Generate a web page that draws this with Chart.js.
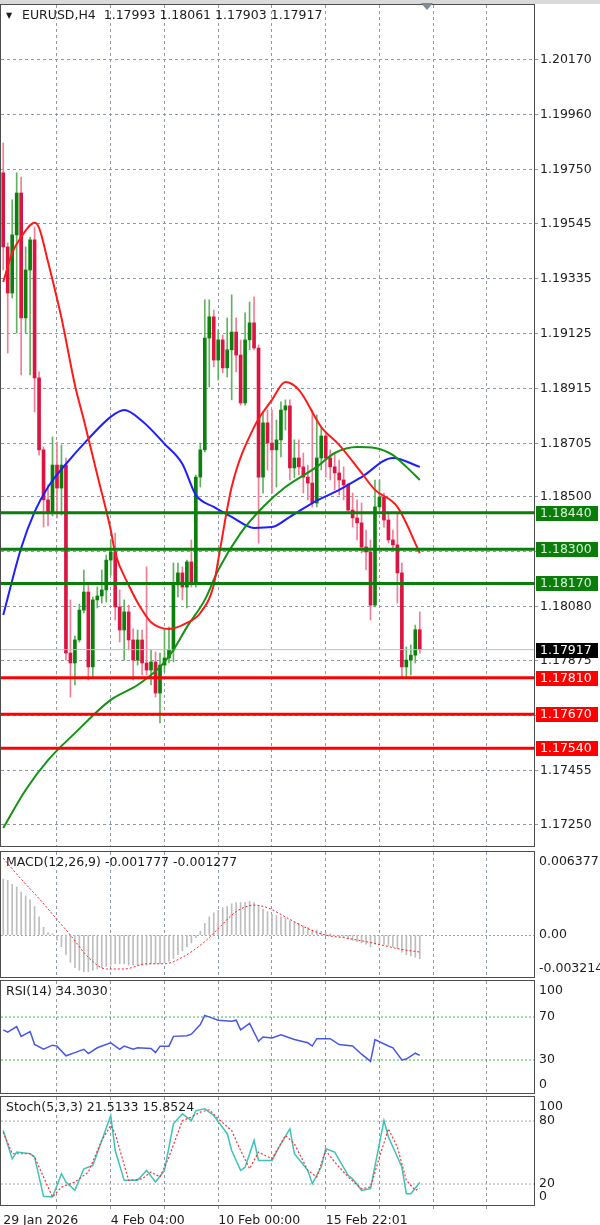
<!DOCTYPE html>
<html>
<head>
<meta charset="utf-8">
<title>EURUSD H4</title>
<script src="https://cdn.jsdelivr.net/npm/chart.js@4.4.1/dist/chart.umd.min.js"></script>
<style>
  html, body { margin: 0; padding: 0; background: #fff; }
  #wrap { position: relative; width: 600px; height: 1225px; overflow: hidden; }
  #wrap canvas { position: absolute; left: 0; }
</style>
</head>
<body>
<div id="wrap">
  <canvas id="mainChart" width="600" height="849" style="top:0px"></canvas>
  <canvas id="macdChart" width="600" height="130" style="top:849px"></canvas>
  <canvas id="rsiChart" width="600" height="115" style="top:979px"></canvas>
  <canvas id="stochChart" width="600" height="131" style="top:1094px"></canvas>
</div>
<script>
// ---- candles (H4 bars, index 0 = 29 Jan 2026 00:00) ----
const candleOpen = [
  1.19738, 1.19455, 1.19279, 1.19501, 1.19661, 1.19184, 1.19367, 1.19482, 1.18955, 1.18680,
  1.18489, 1.18439, 1.18622, 1.18534, 1.18622, 1.17904, 1.17866, 1.17954, 1.18068, 1.18137,
  1.17851, 1.18107, 1.18122, 1.18145, 1.18259, 1.18290, 1.18080, 1.17992, 1.18061, 1.17954,
  1.17877, 1.17954, 1.17866, 1.17839, 1.17870, 1.17751, 1.17858, 1.17885, 1.17916, 1.18164,
  1.18210, 1.18156, 1.18252, 1.18172, 1.18576, 1.18680, 1.19107, 1.19188, 1.19023, 1.19100,
  1.18993, 1.19062, 1.19130, 1.19042, 1.18859, 1.19100, 1.19165, 1.19069, 1.18576, 1.18783,
  1.18706, 1.18680, 1.18718, 1.18832, 1.18848, 1.18611, 1.18649, 1.18615, 1.18576, 1.18553,
  1.18477, 1.18649, 1.18733, 1.18649, 1.18615, 1.18592, 1.18565, 1.18546, 1.18450, 1.18420,
  1.18401, 1.18309, 1.18290, 1.18087, 1.18462, 1.18500, 1.18412, 1.18336, 1.18317, 1.18210,
  1.17851, 1.17877, 1.17896, 1.17993
];
const candleHigh = [
  1.19852, 1.19470, 1.19635, 1.19738, 1.19722, 1.19455, 1.19493, 1.19531, 1.18978, 1.18691,
  1.18546, 1.18729, 1.18710, 1.18699, 1.18649, 1.18107, 1.17969, 1.18091, 1.18221, 1.18175,
  1.18118, 1.18156, 1.18221, 1.18278, 1.18336, 1.18362, 1.18145, 1.18107, 1.18087, 1.17996,
  1.17992, 1.17992, 1.18233, 1.17916, 1.17908, 1.17904, 1.17996, 1.18003, 1.18248, 1.18248,
  1.18233, 1.18259, 1.18336, 1.18584, 1.18706, 1.19253, 1.19253, 1.19214, 1.19138, 1.19119,
  1.19184, 1.19272, 1.19184, 1.19100, 1.19203, 1.19245, 1.19264, 1.19081, 1.18821, 1.18832,
  1.18832, 1.18794, 1.18863, 1.18871, 1.18871, 1.18718, 1.18718, 1.18668, 1.18622, 1.18832,
  1.18813, 1.18764, 1.18744, 1.18680, 1.18668, 1.18641, 1.18615, 1.18553, 1.18515, 1.18489,
  1.18477, 1.18374, 1.18336, 1.18565, 1.18565, 1.18515, 1.18439, 1.18374, 1.18439, 1.18248,
  1.17927, 1.17935, 1.18011, 1.18061
];
const candleLow = [
  1.19367, 1.19050, 1.19260, 1.19126, 1.18966, 1.19126, 1.18966, 1.18825, 1.18660, 1.18385,
  1.18389, 1.18427, 1.18420, 1.18431, 1.17877, 1.17736, 1.17782, 1.17946, 1.18057, 1.17801,
  1.17809, 1.18076, 1.18095, 1.18099, 1.18202, 1.18030, 1.17946, 1.17877, 1.17916, 1.17801,
  1.17858, 1.17820, 1.17820, 1.17782, 1.17736, 1.17637, 1.17832, 1.17866, 1.17870, 1.18118,
  1.18107, 1.18076, 1.18156, 1.18156, 1.18538, 1.18672, 1.18920, 1.18997, 1.18947, 1.18974,
  1.18958, 1.18871, 1.18978, 1.18851, 1.18851, 1.19062, 1.19062, 1.18324, 1.18515, 1.18603,
  1.18515, 1.18538, 1.18653, 1.18756, 1.18565, 1.18573, 1.18584, 1.18515, 1.18489, 1.18462,
  1.18462, 1.18603, 1.18576, 1.18565, 1.18527, 1.18508, 1.18489, 1.18439, 1.18385, 1.18336,
  1.18286, 1.18221, 1.18030, 1.18080, 1.18450, 1.18385, 1.18324, 1.18298, 1.18095, 1.17812,
  1.17809, 1.17820, 1.17866, 1.17903
];
const candleClose = [
  1.19455, 1.19279, 1.19501, 1.19661, 1.19184, 1.19367, 1.19482, 1.18955, 1.18680, 1.18489,
  1.18439, 1.18622, 1.18534, 1.18622, 1.17904, 1.17866, 1.17954, 1.18068, 1.18137, 1.17851,
  1.18107, 1.18122, 1.18145, 1.18259, 1.18290, 1.18080, 1.17992, 1.18061, 1.17954, 1.17877,
  1.17954, 1.17866, 1.17839, 1.17870, 1.17751, 1.17858, 1.17885, 1.17916, 1.18164, 1.18210,
  1.18156, 1.18252, 1.18172, 1.18576, 1.18680, 1.19107, 1.19188, 1.19023, 1.19100, 1.18993,
  1.19062, 1.19130, 1.19042, 1.18859, 1.19100, 1.19165, 1.19069, 1.18576, 1.18783, 1.18706,
  1.18680, 1.18718, 1.18832, 1.18848, 1.18611, 1.18649, 1.18615, 1.18576, 1.18553, 1.18477,
  1.18649, 1.18733, 1.18649, 1.18615, 1.18592, 1.18565, 1.18546, 1.18450, 1.18420, 1.18401,
  1.18309, 1.18290, 1.18087, 1.18462, 1.18500, 1.18412, 1.18336, 1.18317, 1.18210, 1.17851,
  1.17877, 1.17896, 1.17993, 1.17917
];

// moving averages read at [bar index, price]
const maFast = [[0,1.19321],[2,1.19432],[4,1.19493],[7,1.19547],[8,1.19528],[10,1.19398],[13,1.19184],
  [16,1.18928],[18,1.18794],[21,1.18584],[24,1.18374],[25,1.18286],[28,1.18164],[31,1.18068],[33,1.18022],
  [37,1.17996],[41,1.18019],[44,1.18057],[47,1.18164],[48,1.18259],[51,1.18538],[56,1.18767],[60,1.18871],
  [63,1.18939],[66,1.18909],[71,1.18767],[75,1.18699],[80,1.18592],[83,1.18527],[88,1.18462],[93,1.18286]];
const maMid = [[0,1.18049],[4,1.18305],[7,1.18443],[10,1.18538],[14,1.18626],[19,1.18722],[24,1.18806],
  [27,1.18832],[31,1.18790],[36,1.18703],[40,1.18626],[43,1.18508],[47,1.18462],[51,1.18424],[56,1.18382],
  [60,1.18385],[64,1.18424],[69,1.18477],[75,1.18527],[80,1.18576],[87,1.18649],[93,1.18615]];
const maSlow = [[0,1.17236],[5,1.17381],[10,1.17495],[16,1.17598],[24,1.17725],[30,1.17782],[35,1.17851],
  [38,1.17916],[41,1.18003],[45,1.18107],[48,1.18221],[53,1.18362],[58,1.18462],[63,1.18538],[70,1.18615],
  [74,1.18668],[79,1.18691],[83,1.18687],[87,1.18660],[90,1.18615],[93,1.18565]];

// horizontal levels
const resistanceLevels = [1.18440, 1.18300, 1.18170];
const supportLevels = [1.17810, 1.17670, 1.17540];
const lastPrice = 1.17917;

// price axis
const priceMin = 1.17167, priceMax = 1.20379;
const priceTicks = [1.20170, 1.19960, 1.19750, 1.19545, 1.19335, 1.19125, 1.18915, 1.18705, 1.18500,
  1.18290, 1.18080, 1.17875, 1.17665, 1.17455, 1.17250];
const priceTickLabels = ['1.20170', '1.19960', '1.19750', '1.19545', '1.19335', '1.19125', '1.18915',
  '1.18705', '1.18500', '', '1.18080', '1.17875', '', '1.17455', '1.17250'];

// time axis
const gridIdx = [12, 24, 36, 48, 60, 72, 84, 96, 108];
const timeIdx = [0, 24, 48, 72];
const timeLabels = ['29 Jan 2026', '4 Feb 04:00', '10 Feb 00:00', '15 Feb 22:01'];
const shiftMarkIdx = 94.6;

// MACD(12,26,9)
const macdHist = [
  0.0043, 0.0042, 0.0039, 0.0037, 0.0033, 0.0030, 0.0027, 0.0022, 0.0014, 0.0006,
  0.0002, 0.0001, -0.0004, -0.0009, -0.0015, -0.0021, -0.0025, -0.0027, -0.0028, -0.0028,
  -0.0027, -0.0026, -0.0025, -0.0024, -0.0023, -0.0022, -0.0022, -0.0022, -0.0023, -0.0023,
  -0.0023, -0.0023, -0.0023, -0.0022, -0.0022, -0.0022, -0.0021, -0.0020, -0.0018, -0.0015,
  -0.0012, -0.0009, -0.0006, -0.0002, 0.0003, 0.0009, 0.0014, 0.0017, 0.0019, 0.0021,
  0.0022, 0.0024, 0.0025, 0.0025, 0.0025, 0.0026, 0.0025, 0.0022, 0.0020, 0.0018,
  0.0016, 0.0015, 0.0014, 0.0013, 0.0011, 0.0010, 0.0009, 0.0007, 0.0006, 0.0004,
  0.0004, 0.0003, 0.0002, 0.0001, 0.0000, -0.0001, -0.0002, -0.0003, -0.0004, -0.0005,
  -0.0006, -0.0007, -0.0009, -0.0007, -0.0006, -0.0007, -0.0008, -0.0009, -0.0010, -0.0013,
  -0.0015, -0.0016, -0.0017, -0.0018
];
const macdSignal = [[0,0.0059],[4,0.0043],[8,0.0028],[12,0.0012],[15,0.0000],[19,-0.0017],[23,-0.0026],
  [27,-0.0026],[32,-0.0022],[36,-0.0022],[40,-0.0017],[45,-0.0005],[48,0.0005],[52,0.0018],[56,0.0023],
  [59,0.0021],[64,0.0012],[68,0.0005],[72,0.0000],[76,-0.0002],[81,-0.0005],[85,-0.0008],[89,-0.0011],
  [93,-0.0013]];
const macdMin = -0.003214, macdMax = 0.006377;
const macdAxisValues = [0.006377, 0, -0.003214];
const macdAxisLabels = ['0.006377', '0.00', '-0.003214'];

// RSI(14)
const rsiLine = [[0,58],[1,56],[3,61],[4,52],[6,56.5],[7,44.4],[9,40],[11,43.8],[12,42.9],[14,33.9],
  [16,36.9],[18,40],[19,36],[21,41.4],[24,45.9],[26,40],[27,42.9],[29,40],[30,41.4],[33,40.8],[34,36.9],
  [35,42.9],[37,42.9],[38,52],[41,52.6],[42,54],[44,63],[45,71.5],[47,68.5],[48,67],[51,66],[52,67],
  [53,58],[55,64],[57,47.4],[58,51.4],[60,50.5],[62,53.5],[65,49],[68,46],[69,43],[70,49.8],[73,49.8],
  [75,44.4],[78,43],[80,35.4],[82,28.8],[83,49],[86,43],[87,41.4],[89,30],[90,30.9],[92,36.3],[93,34.3]];
const rsiLevels = [30, 70];
const rsiAxisValues = [100, 70, 30, 0];

// Stochastic(5,3,3)
const stochMain = [[0,71],[2,44],[3,50.5],[6,49],[7,45.7],[9,8.3],[11,7.6],[13,29.8],[14,21.9],[16,14],
  [18,34.6],[20,37.8],[22,61.6],[24,85.4],[25,52],[27,23.5],[30,23.5],[32,33],[34,21.9],[36,33],[38,77.5],
  [40,87],[42,80.6],[43,90],[45,91.7],[47,85.4],[50,68],[51,52],[53,33],[54,36],[56,61.6],[57,42.5],
  [60,42.5],[62,58.4],[64,72.7],[65,48.9],[68,33],[69,20.3],[71,36.2],[72,53.7],[74,50.5],[77,28.3],
  [78,25],[80,14],[82,15.6],[85,80.6],[86,64.8],[89,36.2],[90,10.8],[91,10.8],[93,21.5]];
const stochSignal = [[0,69.5],[2,48.9],[6,48.9],[7,45.7],[11,7.6],[13,17],[16,21.9],[19,31.4],[22,61.6],
  [24,75.9],[25,68],[28,23.5],[31,25],[33,31.4],[35,26.7],[37,45.7],[40,80.6],[42,83.8],[44,88.6],
  [46,90.8],[48,82.2],[51,71],[53,52],[55,34.6],[57,50.5],[60,44],[63,66.3],[65,58.4],[68,33],[70,26.7],
  [72,52],[74,41],[77,26.7],[80,15.6],[82,17.1],[84,45.7],[86,72.7],[88,55.2],[90,23.5],[92,14],[93,15.9]];
const stochLevels = [20, 80];
const stochAxisValues = [100, 80, 20, 0];

// ---- styling ----
const FONT = 'DejaVu Sans';
const FONT_SIZE = 12.5;
const TEXT = '#1c1c1c';
const GRID = '#8d99a6';
const X_MIN = -0.5, X_MAX = 118.5;
const AXIS_W = 66;

Chart.defaults.font.family = FONT;
Chart.defaults.font.size = FONT_SIZE;
Chart.defaults.color = TEXT;

function toPoints(pairs) {
    return pairs.map(p => ({ x: p[0], y: p[1] }));
}

function flatLine(value, color, width, order, dash) {
    return {
        type: 'line',
        data: [{ x: X_MIN, y: value }, { x: X_MAX, y: value }],
        borderColor: color,
        borderWidth: width,
        borderDash: dash || [],
        pointRadius: 0,
        order: order
    };
}

// shared time axis, labels only on the bottom panel
function timeAxis(withLabels) {
    return {
        type: 'linear',
        min: X_MIN,
        max: X_MAX,
        offset: false,
        afterBuildTicks: s => {
            const vals = withLabels ? [0].concat(gridIdx) : gridIdx;
            s.ticks = vals.map(v => ({ value: v }));
        },
        afterFit: s => {
            s.height = withLabels ? 20 : 0;
            s.paddingLeft = 0;
            s.paddingRight = 0;
        },
        grid: {
            offset: false,
            color: c => (c.tick && c.tick.value === 0) ? 'rgba(0,0,0,0)' : GRID,
            lineWidth: 1,
            drawTicks: withLabels,
            tickLength: 4
        },
        border: { display: false, dash: [3, 3] },
        ticks: {
            display: withLabels,
            autoSkip: false,
            maxRotation: 0,
            align: 'start',
            padding: 4,
            color: TEXT,
            font: { size: FONT_SIZE },
            callback: v => {
                const k = timeIdx.indexOf(v);
                return k >= 0 ? timeLabels[k] : '';
            }
        }
    };
}

// sub window value axis; labels are drawn by the panel plugin
function panelAxis(min, max, lines, color) {
    return {
        position: 'right',
        min: min,
        max: max,
        afterBuildTicks: s => { s.ticks = lines.map(v => ({ value: v })); },
        afterFit: s => { s.width = AXIS_W; s.paddingTop = 0; s.paddingBottom = 0; },
        grid: { display: lines.length > 0, color: color, drawTicks: false },
        border: { display: false, dash: [2, 2] },
        ticks: { display: false }
    };
}

// frame round every plot area
Chart.register({
    id: 'frame',
    afterDraw(chart) {
        const { ctx, chartArea: a } = chart;
        ctx.save();
        ctx.strokeStyle = '#4d4d4d';
        ctx.lineWidth = 1;
        ctx.strokeRect(a.left - 0.5, a.top - 0.5, a.right - a.left + 1, a.bottom - a.top + 1);
        ctx.restore();
    }
});

// title at top-left and value labels at the right of a sub window
function panelText(title, values, labels) {
    return {
        id: 'panelText',
        afterDraw(chart) {
            const { ctx, chartArea: a, scales } = chart;
            ctx.save();
            ctx.font = FONT_SIZE + 'px "' + FONT + '"';
            ctx.fillStyle = TEXT;
            ctx.textBaseline = 'middle';
            ctx.textAlign = 'left';
            ctx.fillText(title, a.left + 5, a.top + 11);
            values.forEach((v, k) => {
                let py = scales.y.getPixelForValue(v);
                py = Math.min(Math.max(py, a.top + 10), a.bottom - 8);
                ctx.fillText(labels[k], a.right + 5, py);
            });
            ctx.restore();
        }
    };
}

const baseOptions = {
    responsive: false,
    animation: false,
    devicePixelRatio: 1,
    events: [],
    plugins: { legend: { display: false }, tooltip: { enabled: false } }
};

// ---- main price window ----
const barIdx = candleOpen.map((_, i) => i);
const isUp = i => candleClose[i] >= candleOpen[i];

const mainDatasets = [
    {
        type: 'bar',
        data: barIdx.map(i => ({ x: i, y: [candleLow[i], candleHigh[i]] })),
        backgroundColor: barIdx.map(i => isUp(i) ? '#5fb35f' : '#f27d96'),
        barThickness: 1,
        grouped: false,
        order: 9
    },
    {
        type: 'bar',
        data: barIdx.map(i => ({ x: i, y: [candleOpen[i], candleClose[i]] })),
        backgroundColor: barIdx.map(i => isUp(i) ? '#0c800c' : '#dc1441'),
        barThickness: 3,
        minBarLength: 1,
        grouped: false,
        order: 8
    },
    flatLine(lastPrice, '#b9c0c8', 1, 7),
    {
        type: 'line', data: toPoints(maSlow), borderColor: '#139213', borderWidth: 2,
        pointRadius: 0, cubicInterpolationMode: 'monotone', order: 4
    },
    {
        type: 'line', data: toPoints(maMid), borderColor: '#1e1eff', borderWidth: 2,
        pointRadius: 0, cubicInterpolationMode: 'monotone', order: 4
    },
    {
        type: 'line', data: toPoints(maFast), borderColor: '#ff1a1a', borderWidth: 2,
        pointRadius: 0, cubicInterpolationMode: 'monotone', order: 3
    }
];
resistanceLevels.forEach(v => mainDatasets.push(flatLine(v, '#0a7d0a', 3, 1)));
supportLevels.forEach(v => mainDatasets.push(flatLine(v, '#ff0000', 3, 1)));

const mainDecor = {
    id: 'mainDecor',
    beforeDraw(chart) {
        const ctx = chart.ctx;
        ctx.save();
        ctx.fillStyle = '#dadada';
        ctx.fillRect(0, 0, chart.width, 4);
        ctx.restore();
    },
    afterDraw(chart) {
        const { ctx, chartArea: a, scales: { x, y } } = chart;
        const last = candleOpen.length - 1;
        ctx.save();
        // chart shift marker
        const sx = x.getPixelForValue(shiftMarkIdx);
        ctx.fillStyle = '#7d8b99';
        ctx.beginPath();
        ctx.moveTo(sx - 6, 3);
        ctx.lineTo(sx + 6, 3);
        ctx.lineTo(sx, 10);
        ctx.closePath();
        ctx.fill();
        // header
        ctx.fillStyle = TEXT;
        ctx.textBaseline = 'middle';
        ctx.font = '8px "' + FONT + '"';
        ctx.fillText('\u25BC', 6, 16);
        ctx.font = FONT_SIZE + 'px "' + FONT + '"';
        ctx.fillText('EURUSD,H4  ' + [candleOpen[last], candleHigh[last], candleLow[last], candleClose[last]]
            .map(v => v.toFixed(5)).join(' '), 22, 16);
        // boxed level labels
        const box = (v, fill, color) => {
            const py = Math.round(y.getPixelForValue(v));
            ctx.fillStyle = fill;
            ctx.fillRect(a.right + 2, py - 7, 62, 15);
            ctx.fillStyle = color;
            ctx.fillText(v.toFixed(5), a.right + 6, py + 1);
        };
        resistanceLevels.forEach(v => box(v, '#0a7d0a', '#d6f2d6'));
        supportLevels.forEach(v => box(v, '#ff0000', '#ffffff'));
        box(lastPrice, '#000000', '#ffffff');
        ctx.restore();
    }
};

new Chart(document.getElementById('mainChart'), {
    type: 'bar',
    data: { datasets: mainDatasets },
    options: Object.assign({}, baseOptions, {
        layout: { padding: { top: 5, bottom: 3, left: 1, right: 0 } },
        scales: {
            x: timeAxis(false),
            y: {
                position: 'right',
                min: priceMin,
                max: priceMax,
                afterBuildTicks: s => { s.ticks = priceTicks.map(v => ({ value: v })); },
                afterFit: s => { s.width = AXIS_W; s.paddingTop = 0; s.paddingBottom = 0; },
                grid: { color: GRID, drawTicks: true, tickLength: 4 },
                border: { display: false, dash: [3, 3] },
                ticks: { padding: 2, color: TEXT, font: { size: FONT_SIZE }, callback: (v, i) => priceTickLabels[i] }
            }
        }
    }),
    plugins: [mainDecor]
});

// ---- MACD ----
new Chart(document.getElementById('macdChart'), {
    type: 'bar',
    data: {
        datasets: [
            {
                type: 'bar',
                data: macdHist.map((v, i) => ({ x: i, y: v })),
                backgroundColor: '#bdbdbd',
                barThickness: 1,
                order: 2
            },
            {
                type: 'line',
                data: toPoints(macdSignal),
                borderColor: '#ff2020',
                borderWidth: 1,
                borderDash: [2, 2],
                pointRadius: 0,
                cubicInterpolationMode: 'monotone',
                order: 1
            }
        ]
    },
    options: Object.assign({}, baseOptions, {
        layout: { padding: { top: 3, bottom: 2, left: 1, right: 0 } },
        scales: {
            x: timeAxis(false),
            y: panelAxis(macdMin, macdMax, [0], '#a3a3a3')
        }
    }),
    plugins: [panelText('MACD(12,26,9) -0.001777 -0.001277', macdAxisValues, macdAxisLabels)]
});

// ---- RSI ----
const rsiDatasets = [{
    data: toPoints(rsiLine),
    borderColor: '#4656e8',
    borderWidth: 1.5,
    pointRadius: 0,
    tension: 0,
    order: 1
}];
rsiLevels.forEach(v => rsiDatasets.push(flatLine(v, '#3cbf3c', 1, 2, [2, 2])));

new Chart(document.getElementById('rsiChart'), {
    type: 'line',
    data: { datasets: rsiDatasets },
    options: Object.assign({}, baseOptions, {
        layout: { padding: { top: 2, bottom: 1, left: 1, right: 0 } },
        scales: {
            x: timeAxis(false),
            y: panelAxis(-0.7, 103.5, [], '#a3a3a3')
        }
    }),
    plugins: [panelText('RSI(14) 34.3030', rsiAxisValues, rsiAxisValues.map(String))]
});

// ---- Stochastic ----
const stochDatasets = [
    {
        data: toPoints(stochMain),
        borderColor: '#3cc4b8',
        borderWidth: 1.5,
        pointRadius: 0,
        tension: 0,
        order: 2
    },
    {
        data: toPoints(stochSignal),
        borderColor: '#ff3030',
        borderWidth: 1.2,
        borderDash: [2, 2],
        pointRadius: 0,
        tension: 0,
        order: 1
    }
];
stochLevels.forEach(v => stochDatasets.push(flatLine(v, '#a8a8a8', 1, 3, [2, 2])));

new Chart(document.getElementById('stochChart'), {
    type: 'line',
    data: { datasets: stochDatasets },
    options: Object.assign({}, baseOptions, {
        layout: { padding: { top: 3, bottom: 0, left: 1, right: 0 } },
        scales: {
            x: timeAxis(true),
            y: panelAxis(0, 103, [], '#a3a3a3')
        }
    }),
    plugins: [panelText('Stoch(5,3,3) 21.5133 15.8524', stochAxisValues, stochAxisValues.map(String))]
});
</script>
</body>
</html>
